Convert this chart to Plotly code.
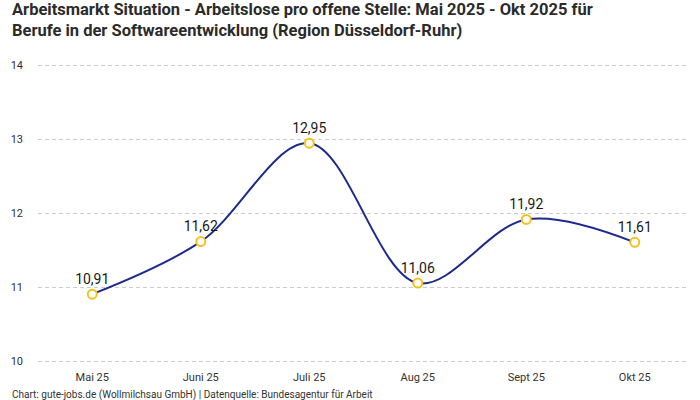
import plotly.graph_objects as go

months = ["Mai 25", "Juni 25", "Juli 25", "Aug 25", "Sept 25", "Okt 25"]
values = [10.91, 11.62, 12.95, 11.06, 11.92, 11.61]
y_ticks = [10, 11, 12, 13, 14]

title_text = ("<b>Arbeitsmarkt Situation - Arbeitslose pro offene Stelle: Mai 2025 - Okt 2025 für<br>"
              "Berufe in der Softwareentwicklung (Region Düsseldorf-Ruhr)</b>")
footer_text = "Chart: gute-jobs.de (Wollmilchsau GmbH) | Datenquelle: Bundesagentur für Arbeit"

font_family = "Roboto, 'Noto Sans', sans-serif"

fig = go.Figure()
fig.add_trace(go.Scatter(
    x=months, y=values,
    mode="lines+markers+text",
    line=dict(color="#1c2a8c", width=2, shape="spline", smoothing=1.0),
    marker=dict(size=9, color="white", line=dict(color="#f5c21b", width=2)),
    text=[f"{v:.2f}".replace(".", ",") for v in values],
    textposition="top center",
    textfont=dict(size=14, color="#1a1a1a", family=font_family),
    cliponaxis=False,
    hoverinfo="skip",
))

fig.update_layout(
    width=700, height=400,
    margin=dict(l=38, r=11, t=64, b=37),
    paper_bgcolor="white", plot_bgcolor="white",
    showlegend=False,
    font=dict(family=font_family, size=11, color="#333333"),
    annotations=[
        dict(text=title_text, xref="paper", yref="paper",
             x=-0.043, y=1.22, xanchor="left", yanchor="top", align="left",
             showarrow=False, font=dict(size=16.5, color="#2b2b2b", family=font_family)),
        dict(text=footer_text, xref="paper", yref="paper",
             x=-0.043, y=-0.08, xanchor="left", yanchor="top",
             showarrow=False, font=dict(size=10, color="#333333")),
    ],
)
fig.update_xaxes(showgrid=False, showline=False, zeroline=False, ticks="",
                 range=[-0.5, 5.5], ticklabelstandoff=6,
                 tickfont=dict(size=11, color="#333333"))
fig.update_yaxes(range=[9.98, 14.02], tickvals=y_ticks, showgrid=True,
                 gridcolor="#cccccc", griddash="4px,3px", gridwidth=1,
                 zeroline=False, showline=False, ticks="",
                 ticklabelstandoff=14, tickfont=dict(size=11, color="#333333"))

fig.write_html("out.html", config={"displayModeBar": False},
               post_script="document.body.style.margin='0';")
